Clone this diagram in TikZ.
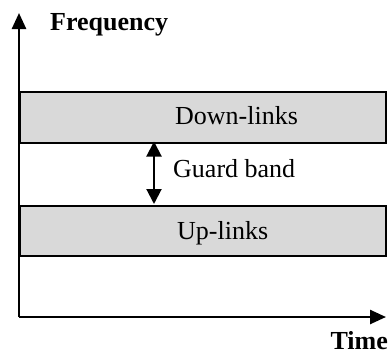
\documentclass[tikz,border=0pt]{standalone}
\usepackage{fontspec}
\setmainfont{Liberation Serif}
\usetikzlibrary{arrows.meta}
\tikzset{
  band/.style={draw=black, line width=2pt, fill=bandgray, inner sep=0pt, anchor=north west},
  axis/.style={line width=2.5pt, -{Triangle[length=16pt,width=14pt]}},
  guard/.style={line width=2pt, {Triangle[length=15pt,width=15pt]}-{Triangle[length=15pt,width=15pt]}},
  lbl/.style={inner sep=0pt, anchor=base west, font=\fontsize{26}{30}\selectfont},
  axlbl/.style={lbl, font=\fontsize{26}{30}\selectfont\bfseries}
}
\definecolor{bandgray}{HTML}{D9D9D9}
\begin{document}
\begin{tikzpicture}[x=1pt, y=-1pt]
  \useasboundingbox (0,0) rectangle (391,354);
  % frequency bands
  \node[band, minimum width=366pt, minimum height=51pt] (down) at (19,90.5) {};
  \node[band, minimum width=366pt, minimum height=50pt] (up) at (19,205) {};
  % axes
  \coordinate (origin) at (19,317);
  \coordinate (ytop) at (19,13);
  \coordinate (xend) at (386,317);
  \draw[axis] (origin) -- (ytop);
  \draw[axis] (origin) -- (xend);
  % labels
  \node[axlbl] (freq) at (50,30) {Frequency};
  \node[axlbl, anchor=base east] (time) at (388,349) {Time};
  \node[lbl] (dl) at (175,124) {Down-links};
  \node[lbl] (ul) at (177,239.5) {Up-links};
  \node[lbl] (gb) at (173,177) {Guard band};
  % guard band arrow
  \coordinate (gtop) at (154,141.5);
  \coordinate (gbot) at (154,204);
  \draw[guard] (gtop) -- (gbot);
\end{tikzpicture}
\end{document}
